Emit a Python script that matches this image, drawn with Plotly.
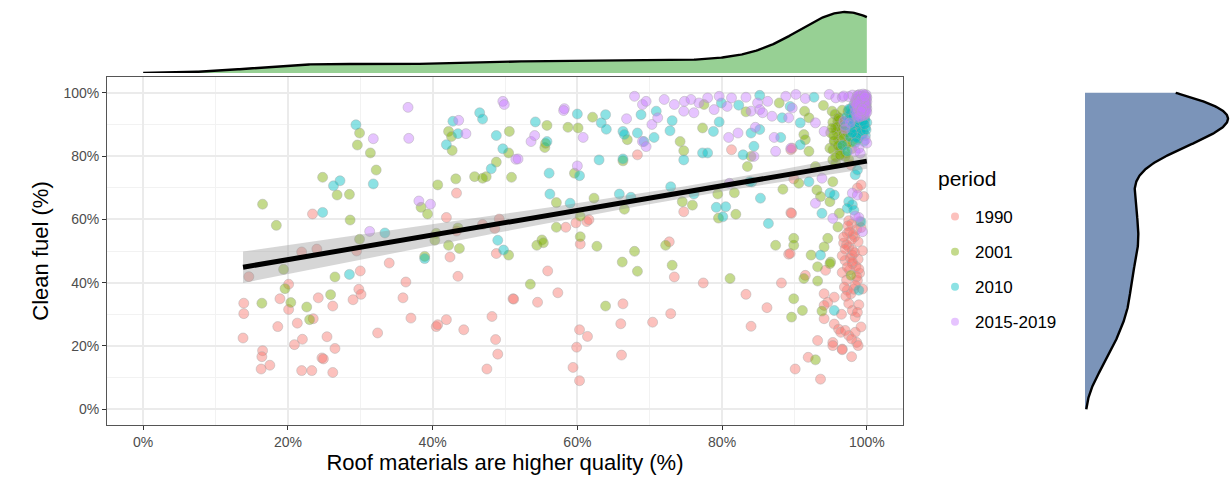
import numpy as np
import plotly.graph_objects as go

# ---- data: roof quality (%) vs clean fuel (%) by survey period ----
x_1990 = [23.4, 21.9, 24.0, 14.6, 13.9, 13.9, 13.8, 16.5, 16.4, 16.3, 17.5, 18.9, 20.1, 20.1, 18.6, 21.3,
          20.9, 22.0, 21.9, 23.3, 24.7, 24.9, 24.2, 26.2, 25.4, 26.5, 26.2, 23.5, 29.5, 30.0, 29.8, 30.1,
          29.0, 34.0, 32.4, 36.3, 35.9, 37.0, 41.9, 43.3, 43.3, 42.4, 43.5, 40.5, 40.7, 41.9, 44.3, 46.9,
          49.2, 48.6, 48.8, 48.2, 48.7, 49.0, 47.5, 51.1, 68.3, 81.3, 89.5, 58.4, 59.8, 61.3, 61.6, 60.4,
          55.9, 51.2, 54.5, 57.3, 66.3, 72.7, 73.4, 72.9, 70.4, 66.0, 66.1, 60.3, 61.4, 59.9, 59.4, 60.3,
          74.7, 77.4, 83.3, 86.2, 84.0, 88.2, 89.2, 89.5, 89.7, 97.8, 89.6, 89.9, 98.7, 99.2, 99.6, 97.5,
          97.9, 98.6, 97.3, 98.3, 96.8, 97.5, 98.0, 98.0, 97.0, 89.4, 96.6, 98.8, 91.5, 94.3, 98.0, 98.7,
          97.3, 97.8, 94.1, 95.5, 94.6, 94.1, 98.0, 98.4, 94.1, 95.5, 96.1, 96.4, 97.0, 97.5, 98.4, 98.6,
          97.9, 93.2, 95.3, 96.6, 91.9, 90.1, 93.6, 96.6, 97.9, 98.8, 95.3, 97.2, 97.6, 99.0, 99.4, 96.5,
          99.2, 98.9,
          97.4, 98.1, 98.8, 97.0, 97.7, 98.5, 99.2, 96.6, 97.9, 98.3, 97.2, 98.9, 96.9, 97.6, 98.6, 99.4,
          97.1, 98.2, 97.5, 98.7, 96.8, 98.0, 99.0, 97.3, 98.4]
y_1990 = [61.7, 49.7, 50.6, 41.9, 33.5, 30.2, 22.5, 18.5, 16.6, 12.7, 13.9, 34.9, 39.5, 31.5, 26.1, 27.2,
          20.4, 22.1, 12.2, 12.2, 16.2, 15.9, 35.2, 32.6, 22.9, 19.2, 11.6, 28.6, 50.0, 43.7, 37.9, 36.3,
          34.6, 46.2, 24.1, 40.2, 35.2, 28.8, 60.6, 68.3, 56.3, 48.1, 42.0, 26.1, 26.7, 28.3, 25.1, 58.4,
          60.1, 57.1, 49.2, 29.3, 22.0, 17.4, 12.7, 34.9, 80.4, 82.0, 82.0, 57.5, 58.9, 59.3, 59.9, 52.2,
          43.7, 34.8, 33.8, 36.8, 33.3, 52.9, 41.8, 30.2, 27.5, 27.0, 17.1, 25.1, 23.0, 19.6, 13.2, 9.0,
          62.4, 39.9, 36.3, 32.1, 26.2, 39.9, 49.0, 62.1, 82.5, 77.2, 61.9, 72.8, 69.9, 70.9, 67.2, 59.6,
          58.5, 56.8, 55.6, 54.5, 52.5, 51.3, 50.2, 48.7, 47.0, 49.2, 48.5, 47.4, 42.3, 43.9, 46.0, 40.7,
          37.6, 36.5, 36.5, 35.4, 33.8, 32.8, 31.2, 29.1, 28.6, 26.9, 25.3, 24.3, 24.9, 23.3, 24.3, 21.1,
          22.2, 21.7, 21.1, 19.0, 16.4, 12.7, 9.5, 18.8, 16.6, 20.1, 20.1, 52.0, 44.0, 43.0, 38.0, 30.0,
          26.0, 33.0,
          58.0, 55.2, 52.9, 50.6, 47.8, 45.1, 57.4, 43.2, 53.6, 49.5, 40.8, 44.3, 38.6, 56.1, 41.9, 50.1,
          35.7, 37.9, 33.4, 30.6, 54.4, 46.6, 59.3, 44.9, 39.2]

x_2001 = [29.9, 29.6, 31.4, 32.2, 24.8, 26.8, 28.5, 16.5, 18.4, 28.6, 29.9, 19.4, 19.6, 20.4, 16.4, 22.6,
          23.0, 25.9, 26.5, 42.2, 42.6, 42.7, 40.7, 43.2, 45.8, 47.4, 46.9, 48.8, 50.6, 50.9, 38.4, 39.3,
          40.5, 40.3, 43.5, 42.2, 43.7, 38.9, 50.5, 50.5, 55.8, 55.5, 55.6, 58.7, 60.1, 62.1, 66.9, 66.3,
          59.6, 77.3, 74.2, 74.7, 83.3, 87.9, 83.5, 77.5, 84.0, 57.1, 62.3, 66.5, 60.4, 60.4, 54.4, 55.1,
          55.3, 57.1, 62.7, 66.2, 67.9, 68.3, 72.2, 73.1, 74.5, 75.9, 79.4, 81.7, 79.5, 81.9, 88.4, 87.4,
          81.1, 63.9, 53.5, 89.9, 91.4, 92.0, 94.0, 95.2, 96.1, 95.7, 95.0, 96.8, 96.1, 95.5, 96.6, 97.3,
          91.3, 91.5, 92.0, 94.9, 95.3, 96.3, 97.0, 92.9, 95.3, 95.7, 90.6, 93.1, 93.6, 95.3, 94.9, 96.2,
          96.0, 94.6, 94.1, 89.9, 92.3, 95.0, 97.8, 91.3, 93.2, 89.9, 91.1, 93.8, 89.6, 94.9, 93.2, 92.9,
          96.5, 97.0, 96.0,
          95.6, 96.3, 97.0, 97.7, 96.0, 96.8, 95.3, 97.4, 98.1, 96.5, 95.8, 97.2, 96.1, 98.4, 95.5, 96.9,
          97.6, 96.4, 95.9, 97.1, 98.0, 96.6, 95.4, 97.3, 96.2, 97.9, 95.7, 96.7, 98.6, 96.0, 97.5, 95.2,
          96.8, 97.8, 96.3]
y_2001 = [87.3, 83.5, 81.0, 75.6, 73.3, 67.7, 67.9, 64.8, 58.1, 59.8, 53.7, 44.2, 38.1, 33.7, 33.5, 32.3,
          28.3, 36.2, 41.8, 87.8, 86.2, 81.8, 70.9, 72.8, 73.5, 73.5, 73.0, 78.1, 87.8, 73.3, 63.8, 61.7,
          55.6, 53.4, 57.3, 51.8, 50.8, 48.3, 81.0, 48.7, 89.7, 82.7, 84.0, 89.1, 88.9, 92.3, 85.2, 78.5,
          74.6, 88.9, 84.6, 81.7, 94.0, 96.8, 76.7, 96.3, 79.9, 65.3, 66.7, 63.2, 61.0, 54.5, 51.8, 53.5,
          52.6, 57.5, 51.5, 46.5, 49.9, 43.6, 51.8, 45.5, 65.6, 64.5, 68.0, 68.4, 60.4, 61.6, 69.5, 51.8,
          41.3, 32.6, 39.5, 51.8, 94.2, 92.1, 96.0, 94.2, 92.1, 89.0, 87.4, 86.4, 85.2, 84.7, 83.4, 84.4,
          86.8, 85.2, 81.5, 82.5, 82.0, 80.4, 79.9, 76.7, 78.8, 77.7, 71.4, 69.3, 67.2, 71.9, 65.6, 61.9,
          57.6, 54.0, 51.3, 54.0, 48.7, 46.5, 42.3, 41.3, 40.5, 34.9, 31.2, 31.0, 29.1, 46.0, 45.0, 15.6,
          90.5, 88.0, 91.0,
          93.2, 91.5, 89.8, 92.6, 88.4, 86.9, 90.7, 94.1, 90.3, 85.6, 87.7, 83.9, 92.0, 88.0, 84.8, 91.1,
          86.2, 82.7, 89.3, 80.9, 84.5, 94.5, 86.5, 87.4, 81.8, 82.3, 79.6, 89.0, 85.1, 83.3, 78.9, 88.8,
          90.0, 93.7, 80.2]

x_2010 = [29.4, 27.2, 26.3, 31.8, 24.8, 33.4, 28.5, 38.9, 42.8, 43.5, 41.9, 46.5, 46.9, 48.8, 49.7, 48.1,
          49.0, 49.8, 54.2, 55.8, 60.0, 63.9, 63.3, 64.0, 66.3, 66.5, 68.3, 68.8, 69.2, 63.0, 66.3, 56.1,
          60.3, 73.1, 72.8, 70.9, 70.6, 78.8, 79.6, 79.9, 85.2, 82.3, 84.4, 84.0, 85.2, 88.1, 88.3, 89.4,
          77.3, 78.0, 74.7, 82.9, 56.2, 59.0, 65.8, 67.4, 72.9, 76.1, 79.2, 80.5, 80.1, 83.8, 84.1, 85.3,
          86.4, 92.7, 90.8, 97.8, 98.2, 98.4, 98.9, 97.8, 98.0, 99.3, 99.7, 96.6, 97.3, 90.8, 92.0, 93.8,
          94.9, 95.5, 97.5, 98.0, 97.3, 98.2, 99.2, 98.4, 93.6, 98.9, 95.5, 99.5, 99.0, 98.6, 99.8, 98.7,
          97.8, 98.5, 99.2, 99.8, 98.1, 98.9, 99.5, 97.4, 98.3, 99.0, 99.7, 98.6, 97.9, 99.3, 100.0, 98.2,
          98.8, 99.6, 97.6, 99.1, 98.4, 99.9, 98.0, 98.7, 99.4, 97.2, 98.9, 99.6, 98.3, 99.0, 97.7, 99.8,
          98.5, 99.2, 97.0, 98.1, 99.5, 98.8, 99.9, 97.5, 98.6, 99.3, 98.0, 99.7, 98.4]
y_2010 = [89.9, 72.2, 70.6, 71.2, 62.2, 55.7, 42.6, 47.6, 91.0, 87.1, 83.6, 93.7, 91.7, 86.5, 82.3, 76.0,
          53.4, 50.3, 90.8, 84.6, 93.3, 93.1, 90.5, 88.5, 87.8, 86.8, 87.3, 93.1, 84.6, 78.8, 79.1, 74.6,
          73.8, 91.2, 88.0, 94.2, 85.9, 87.8, 90.8, 96.8, 99.2, 96.1, 83.1, 87.3, 88.4, 85.9, 92.1, 95.7,
          81.0, 81.0, 78.8, 80.4, 68.0, 65.1, 68.0, 67.0, 70.3, 68.0, 63.8, 64.0, 60.8, 71.9, 71.8, 66.7,
          58.7, 98.6, 90.5, 95.0, 93.9, 92.5, 90.7, 90.7, 89.6, 93.2, 91.4, 83.4, 81.5, 83.6, 71.9, 61.9,
          68.3, 67.7, 65.6, 64.6, 63.5, 62.9, 59.2, 74.1, 48.7, 37.6, 31.2, 96.0, 97.2, 88.0, 86.5, 75.6,
          93.5, 91.8, 90.2, 94.6, 88.7, 92.9, 87.5, 90.9, 95.3, 89.4, 92.0, 86.3, 88.1, 94.0, 90.6, 96.2,
          85.4, 93.1, 91.5, 88.9, 87.0, 95.7, 89.9, 94.4, 86.8, 92.4, 90.4, 84.6, 93.8, 91.2, 86.0, 89.0,
          95.0, 87.8, 89.6, 92.6, 91.0, 96.6, 88.3, 94.8, 85.9, 93.3, 87.3, 90.0, 84.2]

x_2015 = [36.6, 36.7, 31.8, 38.1, 39.7, 31.3, 43.6, 44.6, 49.7, 49.9, 51.5, 58.2, 58.1, 53.6, 54.1, 51.8,
          60.8, 60.0, 66.8, 67.9, 69.0, 69.5, 69.0, 69.5, 72.0, 73.4, 74.7, 74.8, 75.7, 76.1, 76.8, 78.0,
          78.9, 79.6, 80.7, 81.3, 83.3, 84.0, 84.9, 85.2, 85.6, 86.3, 86.9, 88.8, 89.2, 70.3, 71.1, 80.9,
          82.2, 84.6, 87.2, 87.4, 84.4, 89.5, 81.0, 90.2, 91.5, 89.7, 92.9, 94.1, 94.8, 95.7, 96.6, 98.0,
          98.8, 99.5, 99.8, 99.3, 99.9, 98.5, 99.6, 99.0, 99.8, 97.5, 96.8, 97.7, 99.8, 100.0, 98.9, 98.4,
          99.1, 96.8, 97.0, 93.8, 92.9, 95.3, 98.0, 98.7, 98.4, 98.9, 99.4, 99.7, 99.4, 99.9, 99.6, 99.2,
          99.1, 99.6, 99.9, 98.7, 99.3, 99.8, 98.4, 99.0, 99.5, 100.0, 98.9, 99.4, 99.7, 98.6, 99.2, 99.8,
          99.0, 99.5, 98.8, 99.9, 99.3, 98.5, 99.6, 100.0, 99.1, 98.9, 99.7, 99.4, 98.3, 99.8, 99.2, 99.6,
          98.7, 99.9, 99.0, 99.5, 98.6, 99.3, 99.8, 99.1, 98.8, 99.4, 100.0, 99.7, 98.4, 99.2, 99.9, 99.0,
          99.6, 98.9, 99.3, 99.8, 98.7, 99.5, 100.0, 99.1, 98.6, 99.4, 99.7, 99.2]
y_2015 = [95.4, 85.6, 85.5, 65.8, 64.8, 56.2, 91.3, 87.1, 97.3, 96.3, 79.0, 95.0, 94.4, 84.6, 86.5, 79.1,
          85.9, 76.9, 91.8, 98.9, 96.3, 97.3, 84.6, 83.0, 97.9, 96.3, 94.2, 97.3, 97.9, 93.7, 96.8, 98.4,
          94.7, 98.9, 95.7, 98.4, 98.6, 94.2, 96.8, 94.7, 93.7, 97.3, 92.6, 98.9, 92.1, 90.0, 92.1, 85.9,
          87.3, 89.1, 85.9, 81.5, 79.9, 82.5, 71.4, 99.5, 98.2, 95.2, 90.5, 87.8, 99.5, 98.4, 98.6, 99.3,
          98.6, 98.0, 97.0, 96.5, 95.8, 97.5, 94.8, 95.5, 98.8, 98.8, 99.0, 90.5, 85.2, 84.1, 82.5, 81.5,
          80.9, 91.0, 88.6, 73.0, 65.1, 60.3, 68.3, 67.7, 61.1, 60.6, 56.1, 96.5, 97.5, 97.8, 95.5, 98.2,
          98.9, 97.6, 96.3, 99.2, 95.4, 98.1, 97.0, 93.8, 96.8, 95.0, 98.4, 94.6, 99.3, 96.1, 97.9, 93.2,
          99.5, 95.9, 94.9, 98.6, 96.6, 98.0, 92.8, 97.2, 95.1, 96.9, 94.1, 98.8, 95.7, 96.0, 99.0, 93.5,
          97.4, 94.4, 96.4, 98.3, 93.0, 97.7, 95.3, 92.4, 99.1, 96.2, 98.5, 97.1, 94.0, 93.6, 99.4, 97.3,
          94.8, 95.6, 98.2, 96.7, 92.2, 99.6, 93.9, 97.8, 96.5, 95.2, 98.7, 94.3]

periods = ["1990", "2001", "2010", "2015-2019"]
xs = [x_1990, x_2001, x_2010, x_2015]
ys = [y_1990, y_2001, y_2010, y_2015]
colors = ["248,118,109", "124,174,0", "0,191,196", "199,124,255"]

tick_vals = [0, 20, 40, 60, 80, 100]
tick_text = ["0%", "20%", "40%", "60%", "80%", "100%"]

FONT = "Liberation Sans, Arial, Helvetica, sans-serif"
W, H = 1231, 482

all_x = np.concatenate([np.array(v, float) for v in xs])
all_y = np.concatenate([np.array(v, float) for v in ys])


def bw_nrd0(v):
    sd = np.std(v, ddof=1)
    iqr = np.subtract(*np.percentile(v, [75, 25]))
    lo = min(sd, iqr / 1.34)
    return 0.9 * lo * len(v) ** (-0.2)


def kde(v, grid):
    h = bw_nrd0(v)
    z = (grid[:, None] - v[None, :]) / h
    return np.exp(-0.5 * z ** 2).sum(axis=1) / (len(v) * h * np.sqrt(2 * np.pi))


grid = np.linspace(0, 100, 512)
dens_x = kde(all_x, grid)
dens_y = kde(all_y, grid)

# linear fit with 95% confidence band
n = len(all_x)
b1, b0 = np.polyfit(all_x, all_y, 1)
resid = all_y - (b0 + b1 * all_x)
s = np.sqrt((resid ** 2).sum() / (n - 2))
xm = all_x.mean()
sxx = ((all_x - xm) ** 2).sum()
fx = np.linspace(all_x.min(), all_x.max(), 80)
fy = b0 + b1 * fx
se = s * np.sqrt(1.0 / n + (fx - xm) ** 2 / sxx)
tq = 1.964
upper, lower = fy + tq * se, fy - tq * se

fig = go.Figure()

for name, xv, yv, c in zip(periods, xs, ys, colors):
    fig.add_trace(go.Scatter(
        x=xv, y=yv, mode="markers", name=name, legendgroup=name, showlegend=False,
        marker=dict(size=10, color=f"rgba({c},0.45)",
                    line=dict(color="rgba(170,170,170,0.45)", width=1)),
        xaxis="x", yaxis="y", hoverinfo="x+y",
    ))

fig.add_trace(go.Scatter(
    x=np.concatenate([fx, fx[::-1]]), y=np.concatenate([upper, lower[::-1]]),
    fill="toself", fillcolor="rgba(153,153,153,0.4)", line=dict(width=0),
    mode="lines", showlegend=False, hoverinfo="skip", xaxis="x", yaxis="y",
))
fig.add_trace(go.Scatter(
    x=fx, y=fy, mode="lines", line=dict(color="black", width=5),
    showlegend=False, hoverinfo="skip", xaxis="x", yaxis="y",
))

# legend keys: small faded dots, one per period
for name, c in zip(periods, colors):
    fig.add_trace(go.Scatter(
        x=[None], y=[None], mode="markers", name=name, legendgroup=name,
        marker=dict(size=8, color=f"rgba({c},0.45)", line=dict(width=0)),
        xaxis="x", yaxis="y",
    ))

# marginal densities
fig.add_trace(go.Scatter(
    x=grid, y=dens_x, mode="lines", fill="tozeroy", fillcolor="#97D094",
    line=dict(color="black", width=2.4), showlegend=False, hoverinfo="skip",
    xaxis="x2", yaxis="y2",
))
fig.add_trace(go.Scatter(
    x=dens_y, y=grid, mode="lines", fill="tozerox", fillcolor="#7B94B9",
    line=dict(color="black", width=2.4), showlegend=False, hoverinfo="skip",
    xaxis="x3", yaxis="y3",
))


def px_x(p):
    return p / W


def px_y(p):
    return 1 - p / H


main_xdom = [px_x(107), px_x(903)]
main_ydom = [px_y(425), px_y(77)]

axis_common = dict(
    showline=True, mirror=True, linecolor="#555555", linewidth=1,
    ticks="outside", ticklen=4, tickwidth=1, tickcolor="#333333",
    tickfont=dict(family=FONT, size=14, color="#4D4D4D"),
    gridcolor="#EBEBEB", gridwidth=1.6, zeroline=False,
    tickvals=tick_vals, ticktext=tick_text,
    minor=dict(tickvals=[10, 30, 50, 70, 90], showgrid=True,
               gridcolor="#F2F2F2", gridwidth=1, ticks=""),
)

fig.update_layout(
    width=W, height=H,
    margin=dict(l=0, r=0, t=0, b=0),
    paper_bgcolor="white", plot_bgcolor="white",
    font=dict(family=FONT, color="black"),
    xaxis=dict(domain=main_xdom, range=[-5, 105], anchor="y",
               title=dict(text="Roof materials are higher quality (%)",
                          font=dict(family=FONT, size=22, color="black"), standoff=4),
               **axis_common),
    yaxis=dict(domain=main_ydom, range=[-5, 105], anchor="x",
               title=dict(text="Clean fuel (%)",
                          font=dict(family=FONT, size=22, color="black"), standoff=8),
               **axis_common),
    xaxis2=dict(domain=main_xdom, range=[-5, 105], anchor="y2", visible=False),
    yaxis2=dict(domain=[px_y(73), px_y(4)], range=[0, dens_x.max() / 0.884],
                anchor="x2", visible=False),
    xaxis3=dict(domain=[px_x(1085), 1.0], range=[0, dens_y.max() * 146 / 143],
                anchor="y3", visible=False),
    yaxis3=dict(domain=main_ydom, range=[-5, 105], anchor="x3", visible=False),
    legend=dict(
        x=px_x(935), y=px_y(199), xanchor="left", yanchor="top",
        font=dict(family=FONT, size=17, color="black"),
        traceorder="grouped", tracegroupgap=10,
        itemsizing="trace", bgcolor="rgba(0,0,0,0)",
    ),
    annotations=[dict(
        text="period", x=px_x(936), y=px_y(178), xref="paper", yref="paper",
        xanchor="left", yanchor="middle", showarrow=False,
        font=dict(family=FONT, size=21, color="black"),
    )],
)

fig.write_html("out.html")
